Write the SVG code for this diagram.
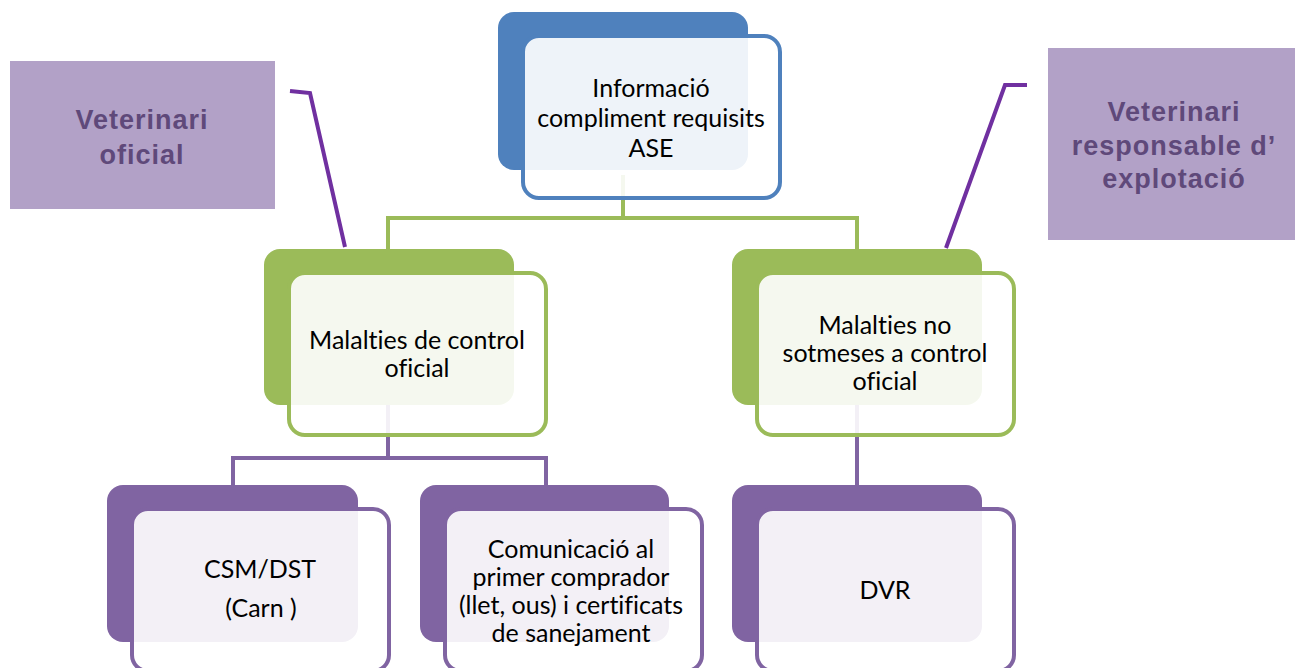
<svg xmlns="http://www.w3.org/2000/svg" width="1295" height="668" viewBox="0 0 1295 668">
<style>
.bb{fill:#4F81BD}.fb{stroke:#4F81BD}
.bg{fill:#9BBB59}.fg{stroke:#9BBB59}
.bp{fill:#8064A2}.fp{stroke:#8064A2}
.front{fill:#FFFFFF;fill-opacity:0.9;stroke-width:4}
.t{font-family:Lato,"Liberation Sans",sans-serif;font-size:25px;fill:#000;text-anchor:middle;font-variant-ligatures:none}
.ct{font-family:"Liberation Sans",Arial,sans-serif;font-size:27px;letter-spacing:1px;font-weight:bold;fill:#5F497A;text-anchor:middle}
.cbox{fill:#B2A1C7}
.cl{fill:none;stroke:#7030A0;stroke-width:4}
</style>
<g id="connectors" fill="none" stroke-width="4">
<path d="M623 175V218M388 249V218H857V249" stroke="#9BBB59"/>
<path d="M388 405V458M233 485V458H546V485M857 405V485" stroke="#8064A2"/>
</g>
<g id="callout-left">
<rect class="cbox" x="10" y="61" width="265" height="148"/>
<text class="ct" x="142" y="129">Veterinari</text>
<text class="ct" x="142" y="164">oficial</text>
<path class="cl" d="M290 91L310 93L345 247"/>
</g>
<g id="callout-right">
<rect class="cbox" x="1048" y="48" width="247" height="192"/>
<text class="ct" x="1174" y="121">Veterinari</text>
<text class="ct" x="1174" y="155">responsable d’</text>
<text class="ct" x="1174" y="188">explotació</text>
<path class="cl" d="M1027 85H1005L946 248"/>
</g>
<g id="node-top">
<rect class="bb" x="498" y="12" width="250" height="158" rx="16"/>
<rect class="front fb" x="523" y="36" width="257" height="162" rx="16"/>
<text class="t" x="651" y="97">Informació</text>
<text class="t" x="651" y="127">compliment requisits</text>
<text class="t" x="651" y="157">ASE</text>
</g>
<g id="node-left">
<rect class="bg" x="264" y="249" width="250" height="156" rx="16"/>
<rect class="front fg" x="289" y="273" width="257" height="162" rx="16"/>
<text class="t" x="417" y="349">Malalties de control</text>
<text class="t" x="417" y="377">oficial</text>
</g>
<g id="node-right">
<rect class="bg" x="732" y="249" width="250" height="156" rx="16"/>
<rect class="front fg" x="757" y="273" width="257" height="162" rx="16"/>
<text class="t" x="885" y="334">Malalties no</text>
<text class="t" x="885" y="362">sotmeses a control</text>
<text class="t" x="885" y="390">oficial</text>
</g>
<g id="node-csm">
<rect class="bp" x="107" y="485" width="251" height="157" rx="16"/>
<rect class="front fp" x="132" y="509" width="257" height="162" rx="16"/>
<text class="t" x="260" y="578">CSM/DST</text>
<text class="t" x="261" y="617">(Carn )</text>
</g>
<g id="node-com">
<rect class="bp" x="420" y="485" width="249" height="157" rx="16"/>
<rect class="front fp" x="445" y="509" width="257" height="162" rx="16"/>
<text class="t" x="571" y="558">Comunicació al</text>
<text class="t" x="571" y="586">primer comprador</text>
<text class="t" x="571" y="614">(llet, ous) i certificats</text>
<text class="t" x="571" y="642">de sanejament</text>
</g>
<g id="node-dvr">
<rect class="bp" x="732" y="485" width="250" height="157" rx="16"/>
<rect class="front fp" x="757" y="509" width="257" height="162" rx="16"/>
<text class="t" x="885" y="599">DVR</text>
</g>
</svg>
